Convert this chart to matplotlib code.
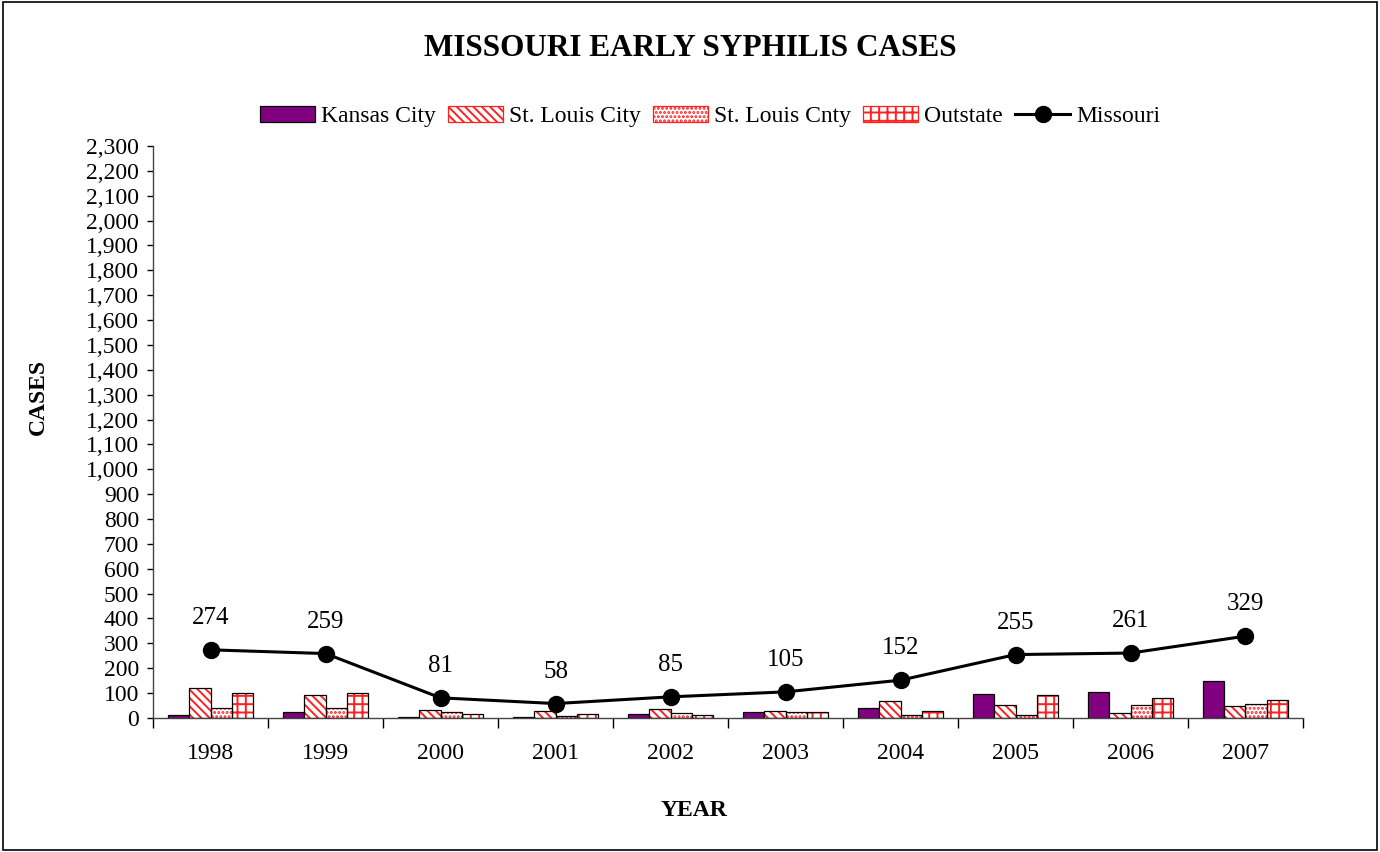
import matplotlib
matplotlib.use("Agg")
import matplotlib.pyplot as plt
import numpy as np
from matplotlib.patches import Rectangle
from matplotlib.lines import Line2D
from matplotlib.ticker import FuncFormatter, MultipleLocator

years = ["1998", "1999", "2000", "2001", "2002", "2003", "2004", "2005", "2006", "2007"]
kansas_city = [12, 25, 4, 5, 14, 26, 40, 95, 104, 150]
st_louis_city = [120, 92, 33, 30, 37, 30, 70, 54, 21, 49]
st_louis_cnty = [40, 40, 26, 8, 21, 26, 12, 12, 54, 57]
outstate = [102, 102, 18, 15, 13, 23, 30, 94, 82, 73]
missouri = [274, 259, 81, 58, 85, 105, 152, 255, 261, 329]

plt.rcParams['font.family'] = ['Liberation Serif', 'DejaVu Serif']
plt.rcParams['hatch.linewidth'] = 1.4

fig = plt.figure(figsize=(13.8, 8.52), dpi=100)
ax = fig.add_axes([0.1109, 0.1573, 0.8333, 0.6714])

x = np.arange(len(years))
w = 0.185
offsets = [-1.5 * w, -0.5 * w, 0.5 * w, 1.5 * w]
series = [
    (kansas_city, '#800080', None, 'Kansas City'),
    (st_louis_city, 'white', '\\\\\\\\', 'St. Louis City'),
    (st_louis_cnty, 'white', '....', 'St. Louis Cnty'),
    (outstate, 'white', '++', 'Outstate'),
]
handles = []
for (vals, fc, hatch, name), off in zip(series, offsets):
    if hatch is None:
        ax.bar(x + off, vals, w, color=fc, edgecolor='black', linewidth=0.9, zorder=2)
        handles.append(Rectangle((0, 0), 1, 1, facecolor=fc, edgecolor='black', linewidth=0.9))
    else:
        ax.bar(x + off, vals, w, color='white', edgecolor='#ff2020', hatch=hatch, linewidth=0, zorder=2)
        ax.bar(x + off, vals, w, fill=False, edgecolor='black', linewidth=0.9, zorder=3)
        handles.append(Rectangle((0, 0), 1, 1, facecolor='white', edgecolor='#ff2020', hatch=hatch, linewidth=0.9))

ax.plot(x, missouri, color='black', linewidth=2.2, marker='o', markersize=11.5, zorder=4)
for xi, v in zip(x, missouri):
    ax.annotate(str(v), (xi, v), xytext=(0, 23), textcoords='offset points',
                ha='center', va='center', fontsize=18)
handles.append(Line2D([0], [0], color='black', linewidth=2.2, marker='o', markersize=11.5))

ax.set_ylim(0, 2300)
ax.set_xlim(-0.5, len(years) - 0.5)
ax.yaxis.set_major_locator(MultipleLocator(100))
ax.yaxis.set_major_formatter(FuncFormatter(lambda v, p: f"{int(v):,}"))
ax.set_xticks(np.arange(-0.5, len(years), 1.0))
ax.set_xticklabels([])
ax.set_xticks(x, minor=True)
ax.set_xticklabels(years, minor=True)
ax.tick_params(axis='x', which='major', length=7, width=1, direction='out')
ax.tick_params(axis='x', which='minor', length=0, pad=18, labelsize=17)
ax.tick_params(axis='y', length=4, width=1, pad=6, labelsize=17)
for s in ['top', 'right']:
    ax.spines[s].set_visible(False)
for s in ['left', 'bottom']:
    ax.spines[s].set_color('#444444')
    ax.spines[s].set_linewidth(1.0)

ax.set_ylabel('CASES', fontsize=17, fontweight='bold')
ax.yaxis.set_label_coords(-0.0906, 0.561)
ax.set_xlabel('YEAR', fontsize=17, fontweight='bold')
ax.xaxis.set_label_coords(0.47, -0.143)

fig.suptitle('MISSOURI EARLY SYPHILIS CASES', y=0.96, fontsize=22.5, fontweight='bold')
fig.legend(handles, [s[3] for s in series] + ['Missouri'], loc='center', bbox_to_anchor=(0.5145, 0.863),
           ncol=5, frameon=False, fontsize=17, handlelength=2.35, handleheight=0.65,
           handletextpad=0.25, columnspacing=0.5)

fig.patches.append(Rectangle((0.002, 0.002), 0.996, 0.996, transform=fig.transFigure,
                             fill=False, edgecolor='black', linewidth=1.2))

fig.savefig('out.png', dpi=100)
